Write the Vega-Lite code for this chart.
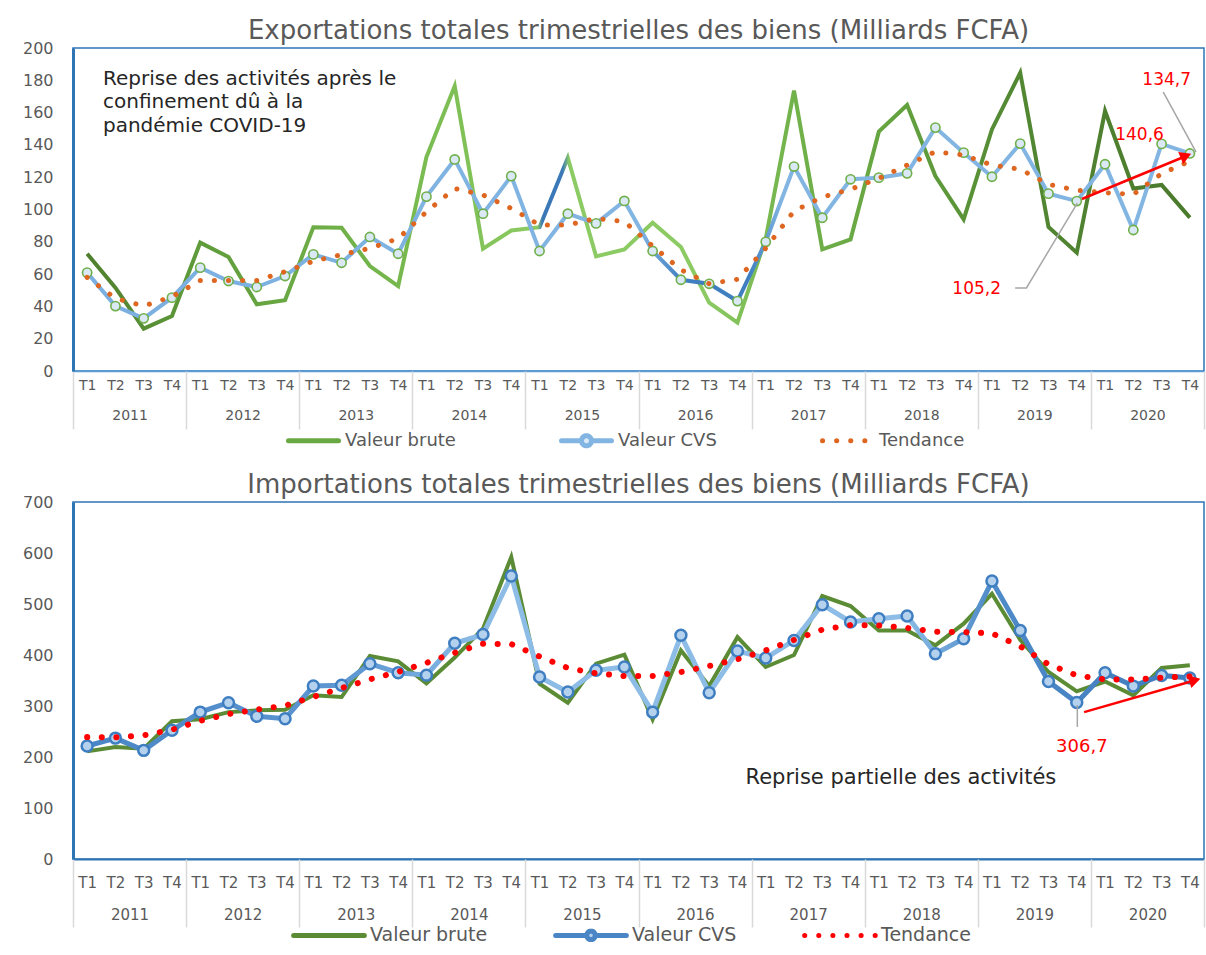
{
  "$schema": "https://vega.github.io/schema/vega-lite/v6.json",
  "padding": {"left": 21, "top": 17, "right": 2, "bottom": 0},
  "spacing": 14,
  "resolve": {"scale": {"color": "independent"}, "legend": {"color": "independent"}},
  "config": {
    "font": "DejaVu Sans",
    "view": {"stroke": "#2e75b6", "strokeWidth": 1.5},
    "title": {"font": "DejaVu Sans", "fontWeight": "normal", "color": "#595959", "fontSize": 26, "offset": -4, "anchor": "middle"}
  },
  "datasets": {
    "exp": [
      {"annee": 2011, "trim": 1, "brute": 72.6, "cvs": 60.9, "tend": 58},
      {"annee": 2011, "trim": 2, "brute": 51.6, "cvs": 40.2, "tend": 45},
      {"annee": 2011, "trim": 3, "brute": 26.2, "cvs": 32.6, "tend": 40.2},
      {"annee": 2011, "trim": 4, "brute": 34, "cvs": 45.4, "tend": 46},
      {"annee": 2012, "trim": 1, "brute": 79.5, "cvs": 64, "tend": 56},
      {"annee": 2012, "trim": 2, "brute": 70.6, "cvs": 55.7, "tend": 56},
      {"annee": 2012, "trim": 3, "brute": 41.3, "cvs": 52, "tend": 56},
      {"annee": 2012, "trim": 4, "brute": 43.8, "cvs": 58.8, "tend": 61.5},
      {"annee": 2013, "trim": 1, "brute": 89, "cvs": 72.2, "tend": 68},
      {"annee": 2013, "trim": 2, "brute": 88.7, "cvs": 67, "tend": 72},
      {"annee": 2013, "trim": 3, "brute": 65, "cvs": 83, "tend": 76},
      {"annee": 2013, "trim": 4, "brute": 52.6, "cvs": 72.6, "tend": 82},
      {"annee": 2014, "trim": 1, "brute": 132.5, "cvs": 108, "tend": 98.6},
      {"annee": 2014, "trim": 2, "brute": 176.5, "cvs": 131, "tend": 113},
      {"annee": 2014, "trim": 3, "brute": 75.8, "cvs": 97.4, "tend": 109},
      {"annee": 2014, "trim": 4, "brute": 87, "cvs": 120.7, "tend": 100.7},
      {"annee": 2015, "trim": 1, "brute": 89, "cvs": 74.3, "tend": 90.4},
      {"annee": 2015, "trim": 2, "brute": 132, "cvs": 97.4, "tend": 90.4},
      {"annee": 2015, "trim": 3, "brute": 71, "cvs": 91.4, "tend": 94.5},
      {"annee": 2015, "trim": 4, "brute": 75.3, "cvs": 105.3, "tend": 92.5},
      {"annee": 2016, "trim": 1, "brute": 91.8, "cvs": 74.3, "tend": 77.4},
      {"annee": 2016, "trim": 2, "brute": 76.8, "cvs": 56.5, "tend": 62.7},
      {"annee": 2016, "trim": 3, "brute": 42.3, "cvs": 54, "tend": 54},
      {"annee": 2016, "trim": 4, "brute": 30, "cvs": 43.3, "tend": 56.8},
      {"annee": 2017, "trim": 1, "brute": 82, "cvs": 80, "tend": 76},
      {"annee": 2017, "trim": 2, "brute": 173.6, "cvs": 126.6, "tend": 99},
      {"annee": 2017, "trim": 3, "brute": 75.3, "cvs": 94.9, "tend": 107.7},
      {"annee": 2017, "trim": 4, "brute": 81.5, "cvs": 118.7, "tend": 112.5},
      {"annee": 2018, "trim": 1, "brute": 148.2, "cvs": 119.7, "tend": 119.3},
      {"annee": 2018, "trim": 2, "brute": 164.7, "cvs": 122.4, "tend": 127.5},
      {"annee": 2018, "trim": 3, "brute": 120.7, "cvs": 150.7, "tend": 135.8},
      {"annee": 2018, "trim": 4, "brute": 93.9, "cvs": 135.2, "tend": 133.7},
      {"annee": 2019, "trim": 1, "brute": 149.6, "cvs": 120.3, "tend": 127.5},
      {"annee": 2019, "trim": 2, "brute": 184.7, "cvs": 140.8, "tend": 124.9},
      {"annee": 2019, "trim": 3, "brute": 89.2, "cvs": 109.8, "tend": 115.6},
      {"annee": 2019, "trim": 4, "brute": 73.3, "cvs": 105.2, "tend": 111.9},
      {"annee": 2020, "trim": 1, "brute": 161, "cvs": 128, "tend": 110.4},
      {"annee": 2020, "trim": 2, "brute": 113, "cvs": 87.3, "tend": 109.4},
      {"annee": 2020, "trim": 3, "brute": 115.2, "cvs": 140.6, "tend": 122.2},
      {"annee": 2020, "trim": 4, "brute": 95, "cvs": 134.7, "tend": 130}
    ],
    "imp": [
      {"annee": 2011, "trim": 1, "brute": 211, "cvs": 221.6, "tend": 239},
      {"annee": 2011, "trim": 2, "brute": 219.6, "cvs": 237, "tend": 238.6},
      {"annee": 2011, "trim": 3, "brute": 216.3, "cvs": 213, "tend": 242.5},
      {"annee": 2011, "trim": 4, "brute": 270, "cvs": 252.3, "tend": 253.6},
      {"annee": 2012, "trim": 1, "brute": 274, "cvs": 288, "tend": 271},
      {"annee": 2012, "trim": 2, "brute": 288, "cvs": 306.5, "tend": 284.3},
      {"annee": 2012, "trim": 3, "brute": 291.5, "cvs": 279.8, "tend": 292.8},
      {"annee": 2012, "trim": 4, "brute": 292.7, "cvs": 275, "tend": 300.7},
      {"annee": 2013, "trim": 1, "brute": 321, "cvs": 339.2, "tend": 317.6},
      {"annee": 2013, "trim": 2, "brute": 317.6, "cvs": 340.5, "tend": 335.3},
      {"annee": 2013, "trim": 3, "brute": 398, "cvs": 383, "tend": 352.3},
      {"annee": 2013, "trim": 4, "brute": 387.6, "cvs": 365.3, "tend": 366.7},
      {"annee": 2014, "trim": 1, "brute": 344.5, "cvs": 360.5, "tend": 384.5},
      {"annee": 2014, "trim": 2, "brute": 395, "cvs": 423, "tend": 404.5},
      {"annee": 2014, "trim": 3, "brute": 451.6, "cvs": 440, "tend": 422},
      {"annee": 2014, "trim": 4, "brute": 592, "cvs": 555, "tend": 421.6},
      {"annee": 2015, "trim": 1, "brute": 343.7, "cvs": 357, "tend": 397},
      {"annee": 2015, "trim": 2, "brute": 306.5, "cvs": 327.5, "tend": 374.5},
      {"annee": 2015, "trim": 3, "brute": 383, "cvs": 370, "tend": 364},
      {"annee": 2015, "trim": 4, "brute": 400.6, "cvs": 376.5, "tend": 358.8},
      {"annee": 2016, "trim": 1, "brute": 274, "cvs": 288, "tend": 358.8},
      {"annee": 2016, "trim": 2, "brute": 409, "cvs": 438.6, "tend": 366.7},
      {"annee": 2016, "trim": 3, "brute": 339, "cvs": 326, "tend": 378.4},
      {"annee": 2016, "trim": 4, "brute": 435, "cvs": 407.8, "tend": 391.5},
      {"annee": 2017, "trim": 1, "brute": 376.5, "cvs": 394, "tend": 409},
      {"annee": 2017, "trim": 2, "brute": 400, "cvs": 428.5, "tend": 429.5},
      {"annee": 2017, "trim": 3, "brute": 515.7, "cvs": 498.7, "tend": 449.7},
      {"annee": 2017, "trim": 4, "brute": 496, "cvs": 464.7, "tend": 458.8},
      {"annee": 2018, "trim": 1, "brute": 448, "cvs": 471.2, "tend": 458},
      {"annee": 2018, "trim": 2, "brute": 448, "cvs": 476.5, "tend": 453},
      {"annee": 2018, "trim": 3, "brute": 419, "cvs": 402.6, "tend": 445.7},
      {"annee": 2018, "trim": 4, "brute": 461.4, "cvs": 432, "tend": 445},
      {"annee": 2019, "trim": 1, "brute": 520, "cvs": 545, "tend": 442.5},
      {"annee": 2019, "trim": 2, "brute": 430, "cvs": 448, "tend": 417},
      {"annee": 2019, "trim": 3, "brute": 366.7, "cvs": 348, "tend": 381.7},
      {"annee": 2019, "trim": 4, "brute": 328.8, "cvs": 306.7, "tend": 360},
      {"annee": 2020, "trim": 1, "brute": 348, "cvs": 365, "tend": 352},
      {"annee": 2020, "trim": 2, "brute": 321, "cvs": 339, "tend": 352},
      {"annee": 2020, "trim": 3, "brute": 374.5, "cvs": 360, "tend": 355.5},
      {"annee": 2020, "trim": 4, "brute": 379.7, "cvs": 355, "tend": 358}
    ],
    "years": [
      {"annee": 2011}, {"annee": 2012}, {"annee": 2013}, {"annee": 2014}, {"annee": 2015},
      {"annee": 2016}, {"annee": 2017}, {"annee": 2018}, {"annee": 2019}, {"annee": 2020}
    ]
  },
  "vconcat": [
    {
      "title": {"text": "Exportations totales trimestrielles des biens (Milliards FCFA)"},
      "width": 1131,
      "height": 323,
      "resolve": {"scale": {"x": "independent"}, "axis": {"x": "independent"}},
      "layer": [
        {
          "encoding": {
            "x": {"field": "x", "type": "quantitative", "scale": {"domain": [2011, 2021], "nice": false, "zero": false},
              "axis": {"orient": "bottom", "title": null, "grid": false, "ticks": false, "domain": true, "domainColor": "#5b9bd5", "domainWidth": 1.5,
                "values": [2011.125,2011.375,2011.625,2011.875,2012.125,2012.375,2012.625,2012.875,2013.125,2013.375,2013.625,2013.875,2014.125,2014.375,2014.625,2014.875,2015.125,2015.375,2015.625,2015.875,2016.125,2016.375,2016.625,2016.875,2017.125,2017.375,2017.625,2017.875,2018.125,2018.375,2018.625,2018.875,2019.125,2019.375,2019.625,2019.875,2020.125,2020.375,2020.625,2020.875],
                "labelExpr": "'T' + (floor((datum.value - floor(datum.value)) * 4) + 1)",
                "labelFontSize": 14, "labelColor": "#595959", "labelPadding": 7, "labelFlush": false, "labelOverlap": false, "labelBound": false}},
            "y": {"field": "valeur", "type": "quantitative", "scale": {"domain": [0, 200], "nice": false},
              "axis": {"title": null, "grid": false, "ticks": false, "values": [0,20,40,60,80,100,120,140,160,180,200], "domainColor": "#2e75b6", "domainWidth": 3, "labelFontSize": 16, "labelColor": "#595959", "labelPadding": 20}}
          },
          "layer": [
            {
              "data": {"name": "exp"},
              "transform": [
                {"calculate": "datum.annee + (datum.trim - 0.5) / 4", "as": "x"},
                {"fold": ["brute", "cvs", "tend"], "as": ["serie", "valeur"]}
              ],
              "layer": [
                {
                  "transform": [{"filter": "datum.serie === 'brute'"}],
                  "mark": {"type": "line", "strokeWidth": 4,
                    "stroke": {"gradient": "linear", "x1": 0, "y1": 0, "x2": 1, "y2": 0, "stops": [
                      {"offset": 0, "color": "#4f7f2e"},
                      {"offset": 0.1, "color": "#5f9b3a"},
                      {"offset": 0.3, "color": "#79bb50"},
                      {"offset": 0.408, "color": "#8ccb63"},
                      {"offset": 0.413, "color": "#3b78b8"},
                      {"offset": 0.431, "color": "#3b78b8"},
                      {"offset": 0.437, "color": "#8ccb63"},
                      {"offset": 0.56, "color": "#8ccb63"},
                      {"offset": 0.64, "color": "#72b24b"},
                      {"offset": 0.74, "color": "#63a13e"},
                      {"offset": 0.84, "color": "#538833"},
                      {"offset": 1, "color": "#4a7a2c"}
                    ]}}
                },
                {
                  "transform": [{"filter": "datum.serie === 'cvs'"}],
                  "mark": {"type": "line", "strokeWidth": 4,
                    "stroke": {"gradient": "linear", "x1": 0, "y1": 0, "x2": 1, "y2": 0, "stops": [
                      {"offset": 0, "color": "#7aafe0"},
                      {"offset": 0.5, "color": "#82b5e2"},
                      {"offset": 0.54, "color": "#3f7fc0"},
                      {"offset": 0.6, "color": "#3f7fc0"},
                      {"offset": 0.63, "color": "#82b5e2"},
                      {"offset": 1, "color": "#82b5e2"}
                    ]}}
                },
                {
                  "transform": [{"filter": "datum.serie === 'cvs'"}],
                  "mark": {"type": "point", "filled": false, "fill": "#dbe9f6", "fillOpacity": 1, "stroke": "#6fb04a", "strokeWidth": 1.6, "size": 85, "opacity": 1}
                },
                {
                  "transform": [{"filter": "datum.serie === 'tend'"}],
                  "mark": {"type": "line", "strokeWidth": 5, "strokeDash": [0.1, 14], "strokeCap": "round"},
                  "encoding": {"color": {"field": "serie", "type": "nominal",
                    "scale": {"domain": ["brute", "cvs", "tend"], "range": ["#69a944", "#82b5e2", "#de6620"]},
                    "legend": {"orient": "none", "legendX": 213, "legendY": 365, "direction": "horizontal", "title": null,
                      "labelExpr": "datum.value === 'brute' ? 'Valeur brute' : datum.value === 'cvs' ? 'Valeur CVS' : 'Tendance'",
                      "symbolType": "stroke", "symbolSize": 2500, "symbolStrokeWidth": 5, "labelFontSize": 18, "labelColor": "#595959", "columnPadding": 95, "labelOffset": 4,
                      "encode": {"symbols": {"update": {
                        "shape": [{"test": "datum.value === 'cvs'", "value": "M-1,0L-0.2,0M0.2,0L1,0M0.2,0A0.2,0.2 0 1,1 -0.2,0A0.2,0.2 0 1,1 0.2,0"}, {"value": "M0,-0.2M0,0.2M-1,0L1,0"}],
                        "strokeDash": [{"test": "datum.value === 'tend'", "value": [0.1, 14]}, {"value": [1, 0]}],
                        "strokeCap": {"value": "round"},
                        "fill": [{"test": "datum.value === 'cvs'", "value": "#dbe9f6"}, {"value": "transparent"}]
                      }}}}}}
                }
              ]
            },
            {
              "data": {"values": [
                {"x": 2011.265, "valeur": 180.5, "txt": "Reprise des activités après le"},
                {"x": 2011.265, "valeur": 166.3, "txt": "confinement dû à la"},
                {"x": 2011.265, "valeur": 152, "txt": "pandémie COVID-19"}
              ]},
              "mark": {"type": "text", "align": "left", "baseline": "middle", "fontSize": 20, "color": "#262626"},
              "encoding": {"text": {"field": "txt"}}
            },
            {
              "data": {"values": [
                {"x": 2020.64, "valeur": 172.7, "g": "a", "o": 1},
                {"x": 2020.93, "valeur": 135.5, "g": "a", "o": 2},
                {"x": 2019.33, "valeur": 51.4, "g": "b", "o": 1},
                {"x": 2019.43, "valeur": 51.4, "g": "b", "o": 2},
                {"x": 2019.88, "valeur": 104, "g": "b", "o": 3}
              ]},
              "mark": {"type": "line", "color": "#a6a6a6", "strokeWidth": 1.5},
              "encoding": {"detail": {"field": "g"}, "order": {"field": "o"}}
            },
            {
              "data": {"values": [
                {"x": 2020.67, "valeur": 180, "txt": "134,7"},
                {"x": 2020.43, "valeur": 146, "txt": "140,6"},
                {"x": 2018.99, "valeur": 50.8, "txt": "105,2"}
              ]},
              "mark": {"type": "text", "align": "center", "baseline": "middle", "fontSize": 17, "color": "#ff0000"},
              "encoding": {"text": {"field": "txt"}}
            },
            {
              "data": {"values": [{"x": 2019.92, "valeur": 106.5, "x2": 2020.82, "valeur2": 132.5}]},
              "mark": {"type": "rule", "color": "#ff0000", "strokeWidth": 2.5},
              "encoding": {"x2": {"field": "x2"}, "y2": {"field": "valeur2"}}
            },
            {
              "data": {"values": [{"x": 2020.84, "valeur": 133.2}]},
              "mark": {"type": "point", "shape": "triangle-right", "filled": true, "color": "#ff0000", "size": 170, "angle": -22.8, "opacity": 1}
            }
          ]
        },
        {
          "data": {"name": "years"},
          "mark": {"type": "point", "opacity": 0},
          "encoding": {
            "x": {"field": "annee", "type": "quantitative", "scale": {"domain": [2011, 2021], "nice": false, "zero": false},
              "axis": {"orient": "bottom", "title": null, "grid": false, "domain": false, "ticks": true, "tickSize": 58, "tickColor": "#d9d9d9", "tickWidth": 1.5,
                "values": [2011,2012,2013,2014,2015,2016,2017,2018,2019,2020,2021],
                "labelExpr": "datum.value < 2021 ? '' + datum.value : ''",
                "labelOffset": 56.55, "labelPadding": -21, "labelFontSize": 14, "labelColor": "#595959", "labelFlush": false, "labelOverlap": false, "labelBound": false}}
          }
        }
      ]
    },
    {
      "title": {"text": "Importations totales trimestrielles des biens (Milliards FCFA)"},
      "width": 1131,
      "height": 357,
      "resolve": {"scale": {"x": "independent"}, "axis": {"x": "independent"}},
      "layer": [
        {
          "encoding": {
            "x": {"field": "x", "type": "quantitative", "scale": {"domain": [2011, 2021], "nice": false, "zero": false},
              "axis": {"orient": "bottom", "title": null, "grid": false, "ticks": false, "domain": true, "domainColor": "#2e75b6", "domainWidth": 2,
                "values": [2011.125,2011.375,2011.625,2011.875,2012.125,2012.375,2012.625,2012.875,2013.125,2013.375,2013.625,2013.875,2014.125,2014.375,2014.625,2014.875,2015.125,2015.375,2015.625,2015.875,2016.125,2016.375,2016.625,2016.875,2017.125,2017.375,2017.625,2017.875,2018.125,2018.375,2018.625,2018.875,2019.125,2019.375,2019.625,2019.875,2020.125,2020.375,2020.625,2020.875],
                "labelExpr": "'T' + (floor((datum.value - floor(datum.value)) * 4) + 1)",
                "labelFontSize": 15, "labelColor": "#595959", "labelPadding": 16, "labelFlush": false, "labelOverlap": false, "labelBound": false}},
            "y": {"field": "valeur", "type": "quantitative", "scale": {"domain": [0, 700], "nice": false},
              "axis": {"title": null, "grid": false, "ticks": false, "values": [0,100,200,300,400,500,600,700], "domainColor": "#2e75b6", "domainWidth": 3, "labelFontSize": 16, "labelColor": "#595959", "labelPadding": 20}}
          },
          "layer": [
            {
              "data": {"name": "imp"},
              "transform": [
                {"calculate": "datum.annee + (datum.trim - 0.5) / 4", "as": "x"},
                {"fold": ["brute", "cvs", "tend"], "as": ["serie", "valeur"]}
              ],
              "layer": [
                {
                  "transform": [{"filter": "datum.serie === 'brute'"}],
                  "mark": {"type": "line", "strokeWidth": 4, "stroke": "#5b8c35"}
                },
                {
                  "transform": [{"filter": "datum.serie === 'cvs'"}],
                  "mark": {"type": "line", "strokeWidth": 5,
                    "stroke": {"gradient": "linear", "x1": 0, "y1": 0, "x2": 1, "y2": 0, "stops": [
                      {"offset": 0, "color": "#4a86c5"},
                      {"offset": 0.25, "color": "#5f98d3"},
                      {"offset": 0.36, "color": "#8dbde6"},
                      {"offset": 0.74, "color": "#8dbde6"},
                      {"offset": 0.82, "color": "#4f8bc8"},
                      {"offset": 1, "color": "#3f7bbd"}
                    ]}}
                },
                {
                  "transform": [{"filter": "datum.serie === 'cvs'"}],
                  "mark": {"type": "point", "filled": false, "fill": "#b4d1ee", "fillOpacity": 1, "stroke": "#3f7fc1", "strokeWidth": 2.5, "size": 120, "opacity": 1}
                },
                {
                  "transform": [{"filter": "datum.serie === 'tend'"}],
                  "mark": {"type": "line", "strokeWidth": 6, "strokeDash": [0.1, 14.5], "strokeCap": "round"},
                  "encoding": {"color": {"field": "serie", "type": "nominal",
                    "scale": {"domain": ["brute", "cvs", "tend"], "range": ["#5b8c35", "#4a86c5", "#ff0000"]},
                    "legend": {"orient": "none", "legendX": 218, "legendY": 395, "direction": "horizontal", "title": null,
                      "labelExpr": "datum.value === 'brute' ? 'Valeur brute' : datum.value === 'cvs' ? 'Valeur CVS' : 'Tendance'",
                      "symbolType": "stroke", "symbolSize": 5000, "symbolStrokeWidth": 5, "labelFontSize": 19, "labelColor": "#595959", "columnPadding": 57, "labelOffset": 3,
                      "encode": {"symbols": {"update": {
                        "shape": [{"test": "datum.value === 'cvs'", "value": "M-1,0L-0.12,0M0.12,0L1,0M0.12,0A0.12,0.12 0 1,1 -0.12,0A0.12,0.12 0 1,1 0.12,0"}, {"value": "M0,-0.12M0,0.12M-1,0L1,0"}],
                        "strokeDash": [{"test": "datum.value === 'tend'", "value": [0.1, 14]}, {"value": [1, 0]}],
                        "strokeCap": {"value": "round"},
                        "fill": [{"test": "datum.value === 'cvs'", "value": "#b4d1ee"}, {"value": "transparent"}]
                      }}}}}}
                }
              ]
            },
            {
              "data": {"values": [
                {"x": 2018.32, "valeur": 159, "txt": "Reprise partielle des activités"}
              ]},
              "mark": {"type": "text", "align": "center", "baseline": "middle", "fontSize": 21, "color": "#262626"},
              "encoding": {"text": {"field": "txt"}}
            },
            {
              "data": {"values": [
                {"x": 2019.88, "valeur": 302, "g": "a", "o": 1},
                {"x": 2019.88, "valeur": 259, "g": "a", "o": 2}
              ]},
              "mark": {"type": "line", "color": "#a6a6a6", "strokeWidth": 1.5},
              "encoding": {"detail": {"field": "g"}, "order": {"field": "o"}}
            },
            {
              "data": {"values": [
                {"x": 2019.92, "valeur": 220, "txt": "306,7"}
              ]},
              "mark": {"type": "text", "align": "center", "baseline": "middle", "fontSize": 18, "color": "#ff0000"},
              "encoding": {"text": {"field": "txt"}}
            },
            {
              "data": {"values": [{"x": 2019.94, "valeur": 288, "x2": 2020.9, "valeur2": 349}]},
              "mark": {"type": "rule", "color": "#ff0000", "strokeWidth": 2.5},
              "encoding": {"x2": {"field": "x2"}, "y2": {"field": "valeur2"}}
            },
            {
              "data": {"values": [{"x": 2020.92, "valeur": 350.5}]},
              "mark": {"type": "point", "shape": "triangle-right", "filled": true, "color": "#ff0000", "size": 170, "angle": -16, "opacity": 1}
            }
          ]
        },
        {
          "data": {"name": "years"},
          "mark": {"type": "point", "opacity": 0},
          "encoding": {
            "x": {"field": "annee", "type": "quantitative", "scale": {"domain": [2011, 2021], "nice": false, "zero": false},
              "axis": {"orient": "bottom", "title": null, "grid": false, "domain": false, "ticks": true, "tickSize": 68, "tickColor": "#d9d9d9", "tickWidth": 1.5,
                "values": [2011,2012,2013,2014,2015,2016,2017,2018,2019,2020,2021],
                "labelExpr": "datum.value < 2021 ? '' + datum.value : ''",
                "labelOffset": 56.55, "labelPadding": -20, "labelFontSize": 15, "labelColor": "#595959", "labelFlush": false, "labelOverlap": false, "labelBound": false}}
          }
        }
      ]
    }
  ]
}
